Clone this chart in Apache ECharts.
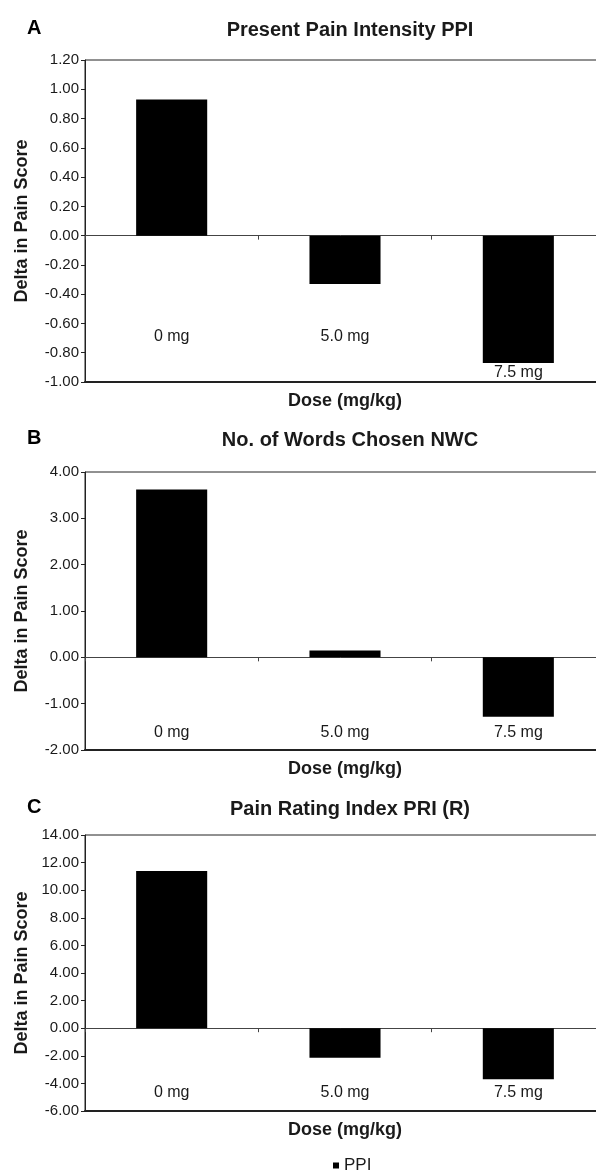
<!DOCTYPE html>
<html>
<head>
<meta charset="utf-8">
<script src="https://cdn.jsdelivr.net/npm/echarts@6/dist/echarts.min.js"></script>
<style>
html,body{margin:0;padding:0;background:#fff;}
#chart{width:596px;height:1175px;}
</style>
</head>
<body>
<div id="chart"></div>
<script>
// ---- data ----
const categories = ['0 mg', '5.0 mg', '7.5 mg'];
const ppiValues = [0.93, -0.33, -0.87];
const nwcValues = [3.62, 0.15, -1.28];
const priValues = [11.4, -2.15, -3.7];
const panelTitles = ['Present Pain Intensity PPI', 'No. of Words Chosen NWC', 'Pain Rating Index PRI (R)'];
const panelLetters = ['A', 'B', 'C'];
const yMins = [-1, -2, -6];
const yMaxs = [1.2, 4, 14];
const yIntervals = [0.2, 1, 2];
const xAxisName = 'Dose (mg/kg)';
const yAxisName = 'Delta in Pain Score';
const legendName = 'PPI';

// ---- layout ----
const FONT = '"Liberation Sans", Arial, Helvetica, sans-serif';
const TXT = '#1a1a1a';
const grids = [
  {top: 60, height: 322},
  {top: 472, height: 278},
  {top: 835, height: 276}
];
const titleY = [15, 425, 794];
const labelOffsets = [-53, -25, -26];
const seriesData = [ppiValues, nwcValues, priValues];

const option = {
  animation: false,
  backgroundColor: '#fff',
  title: [],
  grid: grids.map(g => ({left: 85, width: 520, top: g.top, height: g.height,
    outerBoundsMode: 'none', containLabel: false,
    show: true, borderColor: '#222', borderWidth: 1, backgroundColor: 'transparent'})),
  xAxis: [],
  yAxis: [],
  series: [],
  legend: {
    data: [legendName], top: 1152, left: 328, icon: 'rect',
    itemWidth: 6, itemHeight: 6, itemGap: 3,
    textStyle: {fontFamily: FONT, fontSize: 17, color: TXT}
  }
};

for (let i = 0; i < 3; i++) {
  const low = i === 0;
  option.title.push({
    text: panelTitles[i], left: 345, top: titleY[i], textAlign: 'center',
    textStyle: {fontFamily: FONT, fontSize: 20, fontWeight: 'bold', color: TXT}
  });
  option.title.push({
    text: panelLetters[i], left: 22, top: titleY[i] - 2,
    textStyle: {fontFamily: FONT, fontSize: 20, fontWeight: 'bold', color: '#000'}
  });
  // zero line with boundary ticks
  option.xAxis.push({
    type: 'category', gridIndex: i, data: categories,
    axisLine: {onZero: true, lineStyle: {color: '#444', width: 1}},
    axisTick: {show: true, length: 4, lineStyle: {color: '#444'}},
    axisLabel: {show: false},
    splitLine: {show: false}
  });
  // bottom frame axis with axis name
  option.xAxis.push({
    type: 'category', gridIndex: i, data: categories, position: 'bottom',
    axisLine: {onZero: false, lineStyle: {color: '#222', width: 2}},
    axisTick: {show: false}, axisLabel: {show: false},
    name: xAxisName, nameLocation: 'middle', nameGap: 10,
    nameTextStyle: {fontFamily: FONT, fontSize: 18, fontWeight: 'bold', color: TXT}
  });
  // category labels inside the plot
  option.xAxis.push({
    type: 'category', gridIndex: i, data: categories, position: 'bottom',
    offset: labelOffsets[i],
    axisLine: {show: false, onZero: false}, axisTick: {show: false},
    axisLabel: {
      margin: 0, fontFamily: FONT, fontSize: 16, color: TXT,
      formatter: (v, idx) => (low && idx === 2) ? '{low|' + v + '}' : v,
      rich: {low: {fontFamily: FONT, fontSize: 16, color: TXT, padding: [36, 0, 0, 0]}}
    }
  });
  option.yAxis.push({
    type: 'value', gridIndex: i, min: yMins[i], max: yMaxs[i], interval: yIntervals[i],
    axisLine: {show: true, lineStyle: {color: '#222', width: 1}},
    axisTick: {show: true, length: 4, lineStyle: {color: '#222'}},
    axisLabel: {fontFamily: FONT, fontSize: 15, color: TXT, margin: 6,
      formatter: v => v.toFixed(2)},
    splitLine: {show: false},
    name: yAxisName, nameLocation: 'middle', nameGap: 54, nameRotate: 90,
    nameTextStyle: {fontFamily: FONT, fontSize: 18, fontWeight: 'bold', color: TXT}
  });
  option.series.push({
    type: 'bar', name: i === 0 ? legendName : legendName + ' ' + panelLetters[i],
    xAxisIndex: i * 3, yAxisIndex: i, data: seriesData[i],
    barWidth: '41%', itemStyle: {color: '#000'}
  });
}

const chart = echarts.init(document.getElementById('chart'), null, {renderer: 'canvas'});
chart.setOption(option);
</script>
</body>
</html>
